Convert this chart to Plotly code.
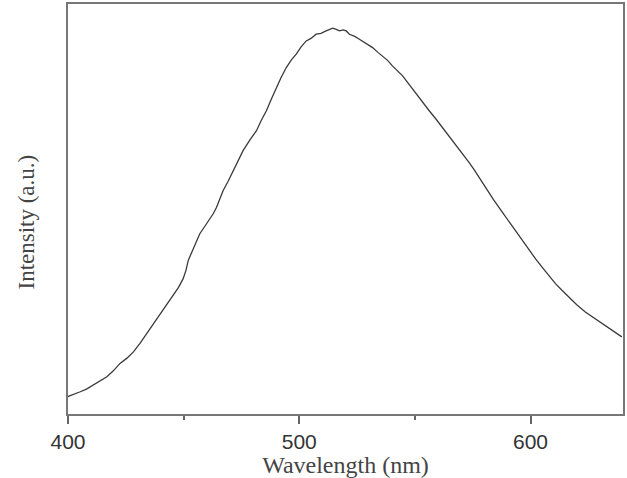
import plotly.graph_objects as go

wavelength = [399.8, 402.5, 405.3, 408.0, 411.0, 414.0, 416.8, 419.5, 422.5, 425.5, 428.3, 431.2, 434.1,
              437.0, 439.8, 442.6, 445.5, 447.8, 449.8, 451.0, 452.0, 453.8, 455.6, 457.0, 459.9,
              462.8, 464.2, 467.1, 469.2, 471.4, 473.5, 475.7, 478.6, 481.5, 483.6, 485.8, 488.0,
              490.1, 492.2, 494.4, 496.6, 498.7, 500.8, 503.0, 505.1, 507.3, 509.4, 511.6, 513.0,
              514.5, 516.0, 517.4, 519.0, 520.3, 521.7, 524.0, 526.0, 529.0, 531.7, 534.0, 536.0,
              538.2, 540.3, 542.5, 544.7, 547.0, 549.0, 551.2, 553.3, 556.2, 559.1, 561.3, 563.4,
              566.2, 569.1, 571.3, 573.4, 575.6, 577.7, 580.6, 584.0, 587.8, 590.6, 593.5, 596.4,
              599.3, 602.2, 605.0, 607.9, 610.8, 613.6, 616.5, 620.0, 623.7, 627.3, 630.9, 635.0, 639.5]
intensity = [17.3, 19.5, 22.3, 25.0, 29.0, 33.5, 37.3, 43.0, 50.7, 56.0, 62.3, 71.0, 80.7,
             90.0, 99.0, 108.5, 119.0, 127.0, 135.7, 144.0, 154.0, 163.0, 172.3, 180.7, 190.7,
             200.7, 207.0, 224.0, 233.0, 244.0, 254.0, 264.0, 274.5, 284.0, 294.5, 304.0, 316.0,
             327.3, 337.5, 347.3, 355.0, 360.7, 368.0, 374.0, 376.5, 380.7, 381.5, 384.0, 385.0,
             386.7, 385.5, 384.0, 385.0, 384.0, 380.7, 378.5, 375.7, 371.5, 367.3, 362.5, 359.0,
             354.5, 349.0, 344.5, 339.0, 332.0, 325.7, 319.5, 312.3, 304.0, 295.7, 289.0, 282.3,
             274.0, 265.7, 259.5, 252.3, 245.0, 237.3, 227.3, 215.0, 202.3, 193.0, 184.0, 174.0,
             164.0, 155.5, 147.3, 139.0, 130.7, 124.0, 117.3, 109.5, 102.3, 96.5, 90.7, 84.0, 77.3]

x_ticks = [400, 500, 600]
x_tick_labels = ["400", "500", "600"]

fig = go.Figure()
fig.add_trace(go.Scatter(x=wavelength, y=intensity, mode="lines",
                         line=dict(color="#3a3a3a", width=1.3), showlegend=False))

fig.update_layout(
    width=627, height=478,
    margin=dict(l=68, r=2, t=3, b=64),
    paper_bgcolor="white", plot_bgcolor="white",
    xaxis=dict(range=[400, 640], tickvals=x_ticks, ticktext=x_tick_labels,
               ticks="outside", ticklen=8, tickwidth=1.5, tickcolor="#666666",
               minor=dict(tickvals=[450, 550], ticks="outside", ticklen=4, tickwidth=1.5, tickcolor="#666666"),
               showline=True, linecolor="#777777", linewidth=2, mirror=True,
               showgrid=False, zeroline=False,
               tickfont=dict(family="Liberation Sans, Arial", size=21, color="#333333"),
               title=dict(text="Wavelength (nm)", standoff=1,
                          font=dict(family="Liberation Serif, Times New Roman", size=24, color="#444444"))),
    yaxis=dict(range=[0, 411], showticklabels=False, ticks="",
               showline=True, linecolor="#777777", linewidth=2, mirror=True,
               showgrid=False, zeroline=False),
    annotations=[dict(text="Intensity (a.u.)", xref="paper", yref="paper", x=0, y=0.467,
                      xshift=-41, textangle=-90, showarrow=False, xanchor="center", yanchor="middle",
                      font=dict(family="Liberation Serif, Times New Roman", size=23, color="#444444"))],
)

fig.write_html("out.html")
